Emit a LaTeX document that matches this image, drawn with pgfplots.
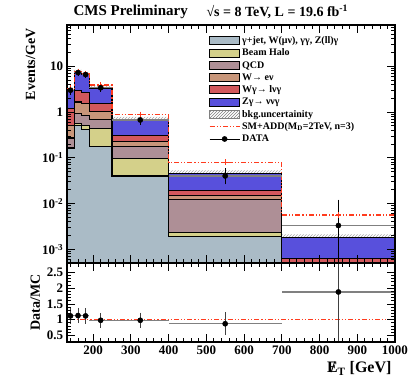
\documentclass[border=0pt]{standalone}
\usepackage{fontspec}
\setmainfont{Liberation Serif}
\usepackage{pgfplots}
\pgfplotsset{compat=1.18}
\usetikzlibrary{patterns}
\definecolor{cgrey}{RGB}{170,187,198}
\definecolor{cyel}{RGB}{212,208,138}
\definecolor{cqcd}{RGB}{174,143,150}
\definecolor{cwen}{RGB}{200,150,122}
\definecolor{cwg}{RGB}{210,88,92}
\definecolor{czg}{RGB}{88,80,220}
\definecolor{cadd}{RGB}{255,60,30}
\tikzset{adddash/.style={dash pattern=on 5pt off 2pt on 1.2pt off 2pt on 1.2pt off 2pt}}
\pgfplotsset{
  cmsaxis/.style={
    scale only axis, width=328.3pt, xmin=130, xmax=1000,
    axis on top, axis line style={line width=1.6pt},
    tick style={black, line width=0.8pt},
    major tick length=8pt, minor tick length=4pt,
    xtick={100,200,...,1000}, minor x tick num=4,
    /pgf/number format/assume math mode=true,
    /pgf/number format/set thousands separator={},
    ticklabel style={font=\fontsize{13}{15}\selectfont\bfseries},
    label style={font=\fontsize{14}{16}\selectfont\bfseries},
  },
  stk/.style={const plot, draw=black, line width=1.2pt, fill=#1, forget plot},
}
\begin{document}
\begin{tikzpicture}
\useasboundingbox (0pt,0pt) rectangle (420pt,388pt);
\node[anchor=west, font=\fontsize{15}{17}\selectfont\bfseries] at (70pt,376pt) {CMS Preliminary};
\node[anchor=west, font=\fontsize{14}{16}\selectfont\bfseries] at (203pt,376pt) {√s = 8 TeV, L = 19.6 fb\textsuperscript{-1}};
% ---------------- upper panel
\begin{axis}[cmsaxis, at={(66.7pt,125pt)}, anchor=south west, height=238pt,
  ymode=log, ymin=5e-4, ymax=80, xticklabels={},
  ytick={0.001,0.01,0.1,1,10},
  yticklabels={10\textsuperscript{-3},10\textsuperscript{-2},10\textsuperscript{-1},1,10},
  minor ytick={6e-4,7e-4,8e-4,9e-4,2e-3,3e-3,4e-3,5e-3,6e-3,7e-3,8e-3,9e-3,0.02,0.03,0.04,0.05,0.06,0.07,0.08,0.09,0.2,0.3,0.4,0.5,0.6,0.7,0.8,0.9,2,3,4,5,6,7,8,9,20,30,40,50,60,70},
  ylabel={Events/GeV},
  ylabel style={at={(ticklabel cs:1)}, anchor=south east},
  legend cell align=left,
  legend style={draw=none, fill=none, at={(0.43,0.965)}, anchor=north west,
    font=\fontsize{10}{12.2}\selectfont\bfseries, row sep=0pt, inner sep=1pt},
]
% uncertainty band (upper edge), covered below by the stack
\addplot[const plot, draw=none, pattern=north east lines, pattern color=gray!70, forget plot] coordinates {
 (130,1e-6) (130,3.4) (150,8.4) (170,7.6) (190,3.8) (250,0.78) (400,0.053) (700,0.0021) (1000,0.0021) (1000,1e-6)};
% Z gamma (total)
\addplot[stk=czg] coordinates {
 (130,1e-6) (130,2.95) (150,7.3) (170,6.6) (190,3.3) (250,0.68) (400,0.0458) (700,0.00177) (1000,0.00177) (1000,1e-6)};
% W gamma
\addplot[stk=cwg] coordinates {
 (130,1e-6) (130,1.2) (150,2.96) (170,2.72) (190,1.52) (250,0.31) (400,0.0193) (700,0.00063) (1000,0.00063) (1000,1e-6)};
% W -> e nu
\addplot[stk=cwen] coordinates {
 (130,1e-6) (130,0.51) (150,1.65) (170,1.52) (190,1.02) (250,0.223) (400,0.0150) (700,0.00052) (1000,0.00052) (1000,1e-6)};
% QCD
\addplot[stk=cqcd] coordinates {
 (130,1e-6) (130,0.27) (150,0.93) (170,0.85) (190,0.68) (250,0.174) (400,0.0121) (700,0.0004) (1000,0.0004) (1000,1e-6)};
% Beam halo
\addplot[stk=cyel] coordinates {
 (130,1e-6) (130,0.17) (150,0.56) (170,0.50) (190,0.44) (250,0.097) (400,0.00234) (700,0.00025) (1000,0.00025) (1000,1e-6)};
% gamma+jet etc
\addplot[stk=cgrey] coordinates {
 (130,1e-6) (130,0.163) (150,0.50) (170,0.42) (190,0.174) (250,0.040) (400,0.00187) (700,0.0002) (1000,0.0002) (1000,1e-6)};
% SM+ADD
\addplot[const plot, cadd, line width=1.1pt, adddash, forget plot] coordinates {
 (130,3.3) (150,7.6) (170,6.9) (190,3.9) (250,0.88) (400,0.080) (700,0.0056) (1000,0.0056)};
\addplot[only marks, mark=+, mark size=3pt, cadd, line width=1pt, forget plot] coordinates {
 (140,3.3) (160,7.6) (180,6.9) (220,3.9) (325,0.88) (550,0.080) (850,0.0056)};
% data: x errors
\addplot[only marks, mark=none, forget plot, error bars/.cd, x dir=both, x explicit,
  error bar style={gray, line width=1.2pt}, error mark=none] coordinates {
 (140,3.0) +- (10,0) (160,7.3) +- (10,0) (180,6.6) +- (10,0) (220,3.4) +- (30,0)
 (325,0.67) +- (75,0) (550,0.040) +- (150,0) (850,0.0033) +- (150,0)};
% data: y errors and markers
\addplot[only marks, mark=*, mark size=2.6pt, black, forget plot, error bars/.cd, y dir=both, y explicit,
  error bar style={black, line width=1.2pt}, error mark=-, error mark options={mark size=2pt, line width=1pt}] coordinates {
 (140,3.0) += (0,0.4) -= (0,0.35) (160,7.3) += (0,0.6) -= (0,0.5) (180,6.6) += (0,0.5) -= (0,0.45)
 (220,3.4) += (0,0.3) -= (0,0.3) (325,0.67) += (0,0.11) -= (0,0.08)
 (550,0.040) += (0,0.014) -= (0,0.011) (850,0.0033) += (0,0.0077) -= (0,0.00329)};
% legend
\addlegendimage{legend image code/.code={\draw[fill=cgrey, draw=black, line width=1pt] (0pt,-4pt) rectangle (30pt,4pt);}}
\addlegendentry{γ+jet, W(μν), γγ, Z(ll)γ}
\addlegendimage{legend image code/.code={\draw[fill=cyel, draw=black, line width=1pt] (0pt,-4pt) rectangle (30pt,4pt);}}
\addlegendentry{Beam Halo}
\addlegendimage{legend image code/.code={\draw[fill=cqcd, draw=black, line width=1pt] (0pt,-4pt) rectangle (30pt,4pt);}}
\addlegendentry{QCD}
\addlegendimage{legend image code/.code={\draw[fill=cwen, draw=black, line width=1pt] (0pt,-4pt) rectangle (30pt,4pt);}}
\addlegendentry{W→ eν}
\addlegendimage{legend image code/.code={\draw[fill=cwg, draw=black, line width=1pt] (0pt,-4pt) rectangle (30pt,4pt);}}
\addlegendentry{Wγ→ lνγ}
\addlegendimage{legend image code/.code={\draw[fill=czg, draw=black, line width=1pt] (0pt,-4pt) rectangle (30pt,4pt);}}
\addlegendentry{Zγ→ ννγ}
\addlegendimage{legend image code/.code={\draw[pattern=north east lines, pattern color=gray, draw=gray, line width=0.8pt] (0pt,-4pt) rectangle (30pt,4pt);}}
\addlegendentry{bkg.uncertainity}
\addlegendimage{legend image code/.code={\draw[cadd, adddash, line width=1.1pt] (0pt,0pt) -- (30pt,0pt);}}
\addlegendentry{SM+ADD(M\textsubscript{D}=2TeV, n=3)}
\addlegendimage{legend image code/.code={\draw[black, line width=0.8pt] (0pt,0pt) -- (30pt,0pt); \fill[black] (15pt,0pt) circle (2.6pt);}}
\addlegendentry{DATA}
\end{axis}
% ---------------- lower panel
\begin{axis}[cmsaxis, at={(66.7pt,46.3pt)}, anchor=south west, height=78.7pt,
  ymin=0.3, ymax=2.8, ytick={0.5,1,1.5,2,2.5}, minor y tick num=4,
  xticklabel style={yshift=-1pt},
  ylabel={Data/MC},
  xlabel={\ooalign{E\cr\hidewidth\kern0.1em/\hidewidth\cr}\textsubscript{T} [GeV]},
  xlabel style={at={(ticklabel cs:1)}, anchor=north east, font=\fontsize{16}{18}\selectfont\bfseries},
]
\addplot[cadd, line width=0.7pt, adddash, forget plot] coordinates {(130,1) (1000,1)};
\addplot[only marks, mark=none, forget plot, error bars/.cd, x dir=both, x explicit,
  error bar style={gray, line width=1.1pt}, error mark=none] coordinates {
 (140,1.12) +- (10,0) (160,1.13) +- (10,0) (180,1.12) +- (10,0) (220,0.98) +- (30,0)
 (325,0.98) +- (75,0) (550,0.87) +- (150,0) (850,1.88) +- (150,0)};
\addplot[only marks, mark=*, mark size=2.6pt, black, forget plot, error bars/.cd, y dir=both, y explicit,
  error bar style={black!75, line width=0.8pt}, error mark=-, error mark options={mark size=2pt, line width=0.8pt}] coordinates {
 (140,1.12) +- (0,0.2) (160,1.13) +- (0,0.18) (180,1.12) +- (0,0.18) (220,0.98) +- (0,0.17)
 (325,0.98) +- (0,0.18) (550,0.87) +- (0,0.3) (850,1.88) +- (0,3)};
\end{axis}
\end{tikzpicture}
\end{document}
